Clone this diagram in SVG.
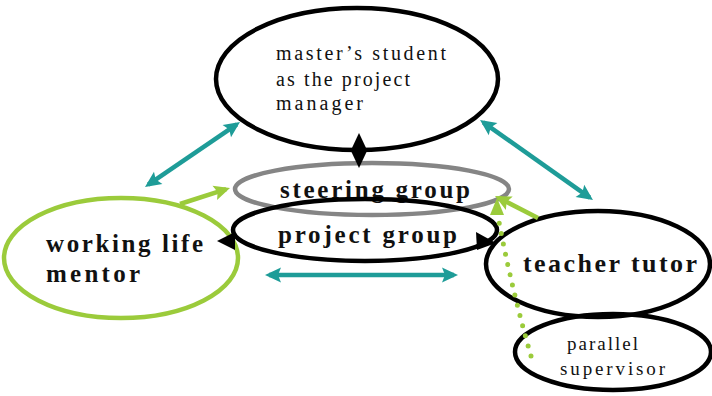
<svg xmlns="http://www.w3.org/2000/svg" width="712" height="396" viewBox="0 0 712 396">
<style>
.el{fill:none;stroke-width:4.5}
.blk{stroke:#000}
.t{font-family:"Liberation Serif","Times New Roman",serif;fill:#111}
.b{font-weight:bold}
.teal{stroke:#1e9c98;stroke-width:4.5;fill:none}
.grn{stroke:#9bcb3b;stroke-width:4.5;fill:none}
</style>
<defs>
<marker id="at" markerUnits="userSpaceOnUse" markerWidth="17" markerHeight="16" refX="12" refY="7.5" orient="auto-start-reverse" overflow="visible">
<path d="M0,0 L16,7.5 L0,15 L3,7.5 z" fill="#1e9c98"/>
</marker>
<marker id="ag" markerUnits="userSpaceOnUse" markerWidth="17" markerHeight="16" refX="12" refY="7.5" orient="auto-start-reverse" overflow="visible">
<path d="M0,0 L16,7.5 L0,15 L3,7.5 z" fill="#9bcb3b"/>
</marker>
<marker id="ab" markerUnits="userSpaceOnUse" markerWidth="18" markerHeight="17" refX="13" refY="8" orient="auto-start-reverse" overflow="visible">
<path d="M0,0 L17,8 L0,16 z" fill="#000"/>
</marker>
</defs>

<g id="master">
<ellipse class="el blk" cx="357" cy="79" rx="141" ry="71"/>
<text class="t" font-size="20" x="276" y="60" textLength="170" lengthAdjust="spacing">master’s  student</text>
<text class="t" font-size="20" x="276" y="86" textLength="134" lengthAdjust="spacing">as the project</text>
<text class="t" font-size="20" x="276" y="110" textLength="87" lengthAdjust="spacing">manager</text>
</g>

<g id="steering">
<ellipse class="el" stroke="#858585" cx="372" cy="189" rx="137" ry="26"/>
<text class="t b" font-size="25" x="280" y="198" textLength="190" lengthAdjust="spacing">steering group</text>
</g>

<g id="project">
<ellipse class="el blk" cx="365" cy="230" rx="132" ry="31"/>
<text class="t b" font-size="25" x="278" y="243" textLength="179" lengthAdjust="spacing">project group</text>
</g>

<g id="mentor">
<ellipse class="el" stroke="#9bcb3b" cx="121" cy="258" rx="117" ry="60"/>
<text class="t b" font-size="25" x="46" y="252" textLength="157" lengthAdjust="spacing">working life</text>
<text class="t b" font-size="25" x="46" y="282" textLength="94" lengthAdjust="spacing">mentor</text>
</g>

<g id="tutor">
<ellipse class="el blk" cx="598" cy="264" rx="112" ry="53"/>
<text class="t b" font-size="26" x="523" y="272" textLength="174" lengthAdjust="spacing">teacher tutor</text>
</g>

<g id="supervisor">
<ellipse class="el blk" stroke-width="4" cx="613" cy="352" rx="98" ry="38"/>
<text class="t" font-size="19" x="567" y="350" textLength="71" lengthAdjust="spacing">parallel</text>
<text class="t" font-size="19" x="560" y="375" textLength="105" lengthAdjust="spacing">supervisor</text>
</g>

<g id="connectors">
<line class="teal" x1="148.3" y1="184.7" x2="236.7" y2="124.3" marker-start="url(#at)" marker-end="url(#at)"/>
<line class="teal" x1="483.3" y1="122.3" x2="589.7" y2="197.7" marker-start="url(#at)" marker-end="url(#at)"/>
<line class="teal" x1="269" y1="275" x2="454" y2="275" marker-start="url(#at)" marker-end="url(#at)"/>
<line stroke="#000" stroke-width="3" x1="359" y1="137" x2="359" y2="164" marker-start="url(#ab)" marker-end="url(#ab)"/>
<line class="grn" x1="180" y1="204" x2="226.2" y2="189.2" marker-end="url(#ag)"/>
<line class="grn" x1="538" y1="218" x2="498.6" y2="197.8" marker-end="url(#ag)"/>
<path d="M531,356 Q512,290 499,222" stroke="#9bcb3b" stroke-width="5" fill="none" stroke-linecap="round" stroke-dasharray="0 10.5"/>
<polygon points="497,198 504,215 490,215" fill="#9bcb3b"/>
<polygon points="217,241 235,232 235,250" fill="#000"/>
<polygon points="496,243 476,232 477,250" fill="#000"/>
</g>
</svg>
